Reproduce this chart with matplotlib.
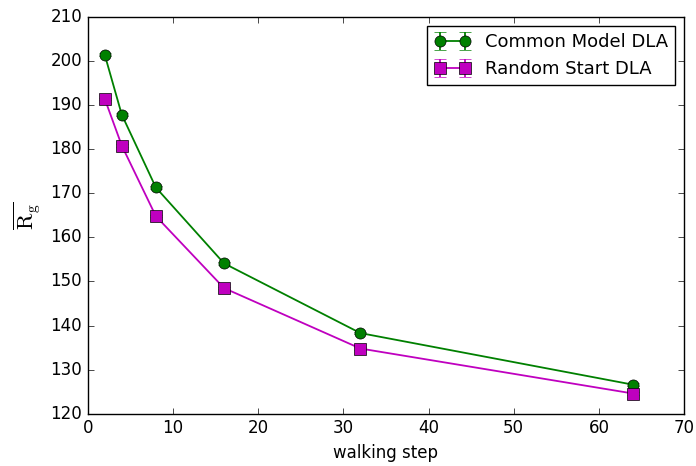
import matplotlib

matplotlib.use("Agg")
import matplotlib.pyplot as plt

plt.style.use("classic")
plt.rcParams["font.family"] = ["DejaVu Sans"]

steps = [2, 4, 8, 16, 32, 64]
common_rg = [201.4, 187.8, 171.3, 154.1, 138.3, 126.6]
common_err = [0.3, 0.3, 0.3, 0.3, 0.3, 0.3]
random_rg = [191.4, 180.8, 164.8, 148.5, 134.8, 124.6]
random_err = [0.3, 0.3, 0.3, 0.3, 0.3, 0.3]

fig = plt.figure(figsize=(6.96, 4.66), dpi=100)
ax = fig.add_axes([0.126, 0.112, 0.857, 0.852])

ax.errorbar(steps, common_rg, yerr=common_err, color="g", marker="o",
            markersize=8, linewidth=1.3, capsize=4, label="Common Model DLA")
ax.errorbar(steps, random_rg, yerr=random_err, color="m", marker="s",
            markersize=8, linewidth=1.3, capsize=4, label="Random Start DLA")

ax.set_xlim(0, 70)
ax.set_ylim(120, 210)
ax.set_xlabel("walking step")
ax.set_ylabel(r"$\overline{\mathrm{R_g}}$", fontsize=16)
ax.legend(loc="upper right", fontsize=13)

fig.savefig("out.png", dpi=100, facecolor="white")
